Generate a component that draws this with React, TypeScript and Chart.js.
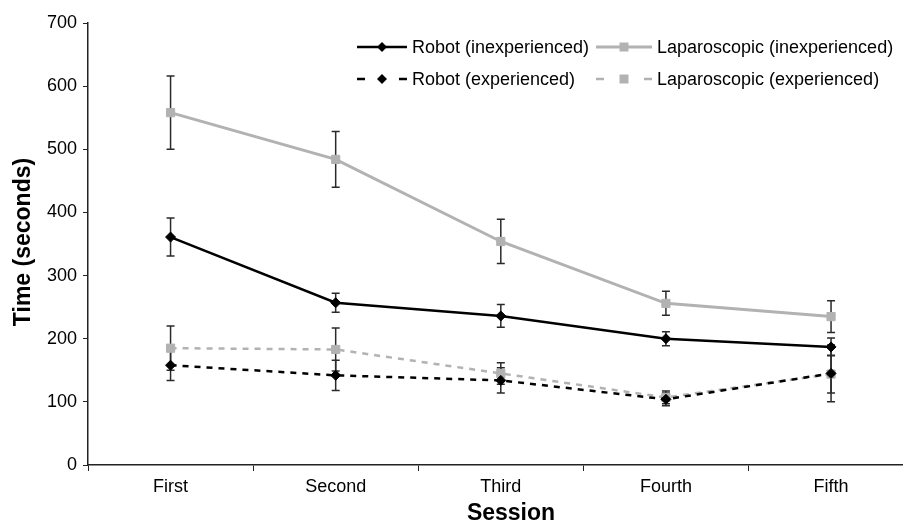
import React, { useEffect, useRef } from 'react';
import { Chart, registerables } from 'chart.js';

Chart.register(...registerables);

// ---- data ----
const categories = ['First', 'Second', 'Third', 'Fourth', 'Fifth'];
const seriesLabels = [
  'Robot (inexperienced)',
  'Laparoscopic (inexperienced)',
  'Robot (experienced)',
  'Laparoscopic (experienced)',
];
const robotInexperienced = [361, 257, 236, 200, 187];
const robotInexperiencedErr = [30, 15, 18, 11, 14];
const lapInexperienced = [558, 484, 354, 256, 235];
const lapInexperiencedErr = [58, 44, 35, 19, 25];
const robotExperienced = [158, 142, 134, 104, 145];
const robotExperiencedErr = [24, 24, 20, 10, 45];
const lapExperienced = [185, 183, 145, 107, 144];
const lapExperiencedErr = [35, 34, 17, 10, 30];
const yMin = 0;
const yMax = 700;
const yStep = 100;
const xTitle = 'Session';
const yTitle = 'Time (seconds)';

const FONT = "'Liberation Sans', Arial, Helvetica, sans-serif";
const BLACK = '#000000';
const GRAY = '#b2b2b2';
const AXIS = '#222222';

const toPoints = (vals: number[]) => vals.map((v, i) => ({ x: i, y: v }));

const errorBarPlugin = {
  id: 'errorBars',
  beforeDatasetsDraw(chart: any) {
    const ctx = chart.ctx;
    const xs = chart.scales.x;
    const ys = chart.scales.y;
    ctx.save();
    ctx.strokeStyle = '#2a2a2a';
    ctx.lineWidth = 1.5;
    ctx.setLineDash([]);
    const n = chart.data.datasets.length;
    for (let d = n - 1; d >= 0; d--) {
      const ds = chart.data.datasets[d];
      const errs: number[] = ds.errors || [];
      ds.data.forEach((p: any, i: number) => {
        const e = errs[i];
        if (!e) return;
        const px = xs.getPixelForValue(p.x);
        const top = ys.getPixelForValue(p.y + e);
        const bot = ys.getPixelForValue(p.y - e);
        const cap = 4;
        ctx.beginPath();
        ctx.moveTo(px, top);
        ctx.lineTo(px, bot);
        ctx.moveTo(px - cap, top);
        ctx.lineTo(px + cap, top);
        ctx.moveTo(px - cap, bot);
        ctx.lineTo(px + cap, bot);
        ctx.stroke();
      });
    }
    ctx.restore();
  },
};

function drawMarker(ctx: CanvasRenderingContext2D, style: string, x: number, y: number, color: string) {
  ctx.fillStyle = color;
  ctx.beginPath();
  if (style === 'rectRot') {
    const r = 5;
    ctx.moveTo(x - r, y);
    ctx.lineTo(x, y - r);
    ctx.lineTo(x + r, y);
    ctx.lineTo(x, y + r);
    ctx.closePath();
  } else {
    const h = 4.5;
    ctx.rect(x - h, y - h, 2 * h, 2 * h);
  }
  ctx.fill();
}

const legendAndTitlesPlugin = {
  id: 'customLegendTitles',
  afterDraw(chart: any) {
    const ctx: CanvasRenderingContext2D = chart.ctx;
    ctx.save();
    // legend
    const cols = [
      { x0: 357, x1: 407 },
      { x0: 596, x1: 652 },
    ];
    const rows = [47, 79];
    chart.data.datasets.forEach((ds: any, i: number) => {
      const col = cols[i % 2];
      const y = rows[Math.floor(i / 2)];
      const dashed = ds.borderDash && ds.borderDash.length > 0;
      ctx.strokeStyle = ds.borderColor;
      ctx.lineWidth = ds.borderWidth;
      ctx.setLineDash([]);
      ctx.beginPath();
      if (dashed) {
        ctx.moveTo(col.x0, y);
        ctx.lineTo(col.x0 + 8, y);
        ctx.moveTo(col.x1 - 8, y);
        ctx.lineTo(col.x1, y);
      } else {
        ctx.moveTo(col.x0, y);
        ctx.lineTo(col.x1, y);
      }
      ctx.stroke();
      drawMarker(ctx, ds.pointStyle, (col.x0 + col.x1) / 2, y, ds.pointBackgroundColor);
      ctx.fillStyle = '#000';
      ctx.font = `18px ${FONT}`;
      ctx.textAlign = 'left';
      ctx.textBaseline = 'middle';
      ctx.fillText(ds.label, col.x1 + 5, y + 1);
    });
    // axis titles
    ctx.fillStyle = '#000';
    ctx.font = `bold 23px ${FONT}`;
    ctx.textAlign = 'center';
    ctx.textBaseline = 'alphabetic';
    ctx.fillText(xTitle, 511, 520);
    ctx.translate(30, 242);
    ctx.rotate(-Math.PI / 2);
    ctx.fillText(yTitle, 0, 0);
    ctx.restore();
  },
};

export default function App() {
  const ref = useRef<HTMLCanvasElement | null>(null);

  useEffect(() => {
    if (!ref.current) return;
    const mk = (label: string, vals: number[], errs: number[], color: string, dashed: boolean, style: string, width: number) => ({
      label,
      data: toPoints(vals),
      errors: errs,
      borderColor: color,
      backgroundColor: color,
      pointBackgroundColor: color,
      pointBorderColor: color,
      borderWidth: width,
      borderDash: dashed ? [6, 6] : [],
      pointStyle: style,
      pointRadius: style === 'rect' ? 5.8 : 5,
      pointBorderWidth: 1,
      tension: 0,
      fill: false,
    });
    const chart = new Chart(ref.current, {
      type: 'line',
      data: {
        datasets: [
          mk(seriesLabels[0], robotInexperienced, robotInexperiencedErr, BLACK, false, 'rectRot', 2.5),
          mk(seriesLabels[1], lapInexperienced, lapInexperiencedErr, GRAY, false, 'rect', 3),
          mk(seriesLabels[2], robotExperienced, robotExperiencedErr, BLACK, true, 'rectRot', 2.5),
          mk(seriesLabels[3], lapExperienced, lapExperiencedErr, GRAY, true, 'rect', 2.5),
        ] as any,
      },
      options: {
        animation: false,
        responsive: false,
        maintainAspectRatio: false,
        layout: { padding: { top: 23, right: 0, left: 0, bottom: 0 } },
        plugins: {
          legend: { display: false },
          tooltip: { enabled: false },
        },
        scales: {
          x: {
            type: 'linear',
            min: -0.5,
            max: -0.5 + 821 / 166.5,
            afterBuildTicks: (scale: any) => {
              scale.ticks = categories.map((_, i) => ({ value: i }));
            },
            afterFit: (scale: any) => {
              scale.height = 57;
              scale.paddingLeft = 0;
              scale.paddingRight = 0;
            },
            ticks: {
              autoSkip: false,
              maxRotation: 0,
              padding: 5,
              color: '#000',
              font: { family: FONT, size: 18 },
              callback: (v: any) => categories[v] ?? '',
            },
            grid: {
              offset: true,
              drawOnChartArea: false,
              drawTicks: true,
              tickLength: 6,
              color: AXIS,
              lineWidth: 1,
            },
            border: { display: true, color: AXIS, width: 1.5 },
          },
          y: {
            type: 'linear',
            min: yMin,
            max: yMax,
            afterFit: (scale: any) => {
              scale.width = 88;
            },
            ticks: {
              stepSize: yStep,
              padding: 6,
              color: '#000',
              font: { family: FONT, size: 18 },
            },
            grid: {
              drawOnChartArea: false,
              drawTicks: true,
              tickLength: 5,
              color: AXIS,
              lineWidth: 1,
            },
            border: { display: true, color: AXIS, width: 1.5 },
          },
        },
      },
      plugins: [errorBarPlugin, legendAndTitlesPlugin],
    } as any);
    return () => chart.destroy();
  }, []);

  return (
    <div style={{ position: 'absolute', left: 0, top: 0, width: 909, height: 522, background: '#fff' }}>
      <canvas ref={ref} width={909} height={522} style={{ display: 'block' }} />
    </div>
  );
}
